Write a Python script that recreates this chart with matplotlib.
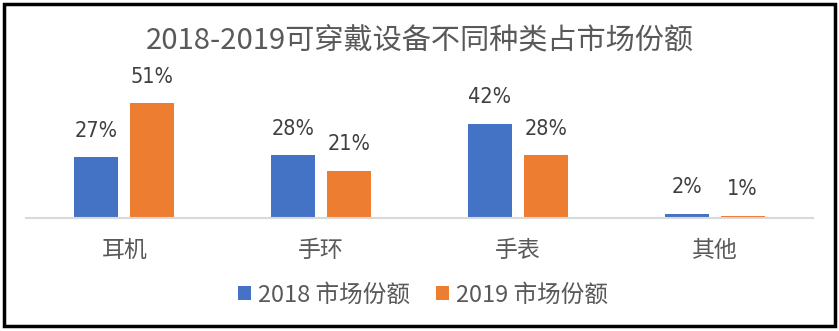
import matplotlib
matplotlib.use("Agg")
import matplotlib.pyplot as plt
from matplotlib.patches import Rectangle, Patch
from matplotlib import font_manager
import numpy as np

plt.rcParams['font.family'] = ['Noto Sans CJK SC', 'DejaVu Sans']

title = "2018-2019可穿戴设备不同种类占市场份额"
categories = ["耳机", "手环", "手表", "其他"]
share_2018 = [27, 28, 42, 2]
share_2019 = [51, 21, 28, 1]
series_names = ["2018 市场份额", "2019 市场份额"]

blue = "#4472C4"
orange = "#ED7D31"
text_gray = "#595959"
label_gray = "#404040"

W, H = 839, 331
fig = plt.figure(figsize=(W / 100, H / 100), dpi=100)

# plot area in pixel coordinates
left, right, base_y, top_y = 26, 813, 218, 83
ax = fig.add_axes([left / W, (H - base_y) / H, (right - left) / W, (base_y - top_y) / H])

x = np.arange(len(categories))
bw = 44 / 196.75
gap = 12 / 196.75
off = (bw + gap) / 2

b1 = ax.bar(x - off, share_2018, width=bw, color=blue, label=series_names[0])
b2 = ax.bar(x + off, share_2019, width=bw, color=orange, label=series_names[1])

ax.set_xlim(-0.5, len(categories) - 0.5)
ax.set_ylim(0, 60)
for s in ["top", "right", "left"]:
    ax.spines[s].set_visible(False)
ax.spines["bottom"].set_color("#D9D9D9")
ax.spines["bottom"].set_linewidth(1.5)
ax.set_yticks([])
ax.set_xticks(x)
ax.set_xticklabels(categories, fontsize=16.5, color=text_gray)
ax.tick_params(axis="x", length=0, pad=15)

# condensed face for the value labels
cond = font_manager.FontProperties(family="DejaVu Sans", stretch="condensed", size=15.5)
for bars, vals in ((b1, share_2018), (b2, share_2019)):
    for rect, v in zip(bars, vals):
        ax.annotate(f"{v}%", (rect.get_x() + rect.get_width() / 2, v),
                    xytext=(0, 19), textcoords="offset points",
                    ha="center", va="center", fontproperties=cond,
                    color=label_gray)

fig.text(420 / W, 1 - 40 / H, title, ha="center", va="center",
         fontsize=21, color=text_gray)

handles = [Patch(facecolor=blue), Patch(facecolor=orange)]
fig.legend(handles, series_names, loc="center", bbox_to_anchor=(423 / W, 1 - 295 / H),
           ncol=2, frameon=False, fontsize=17, labelcolor=text_gray,
           handlelength=0.55, handleheight=0.55, handletextpad=0.3, columnspacing=1.1)

fig.add_artist(Rectangle((3.5 / W, 1 - 325.5 / H), 831 / W, 322 / H,
                         transform=fig.transFigure, fill=False,
                         edgecolor="black", linewidth=2.5))

fig.savefig("out.png", dpi=100)
